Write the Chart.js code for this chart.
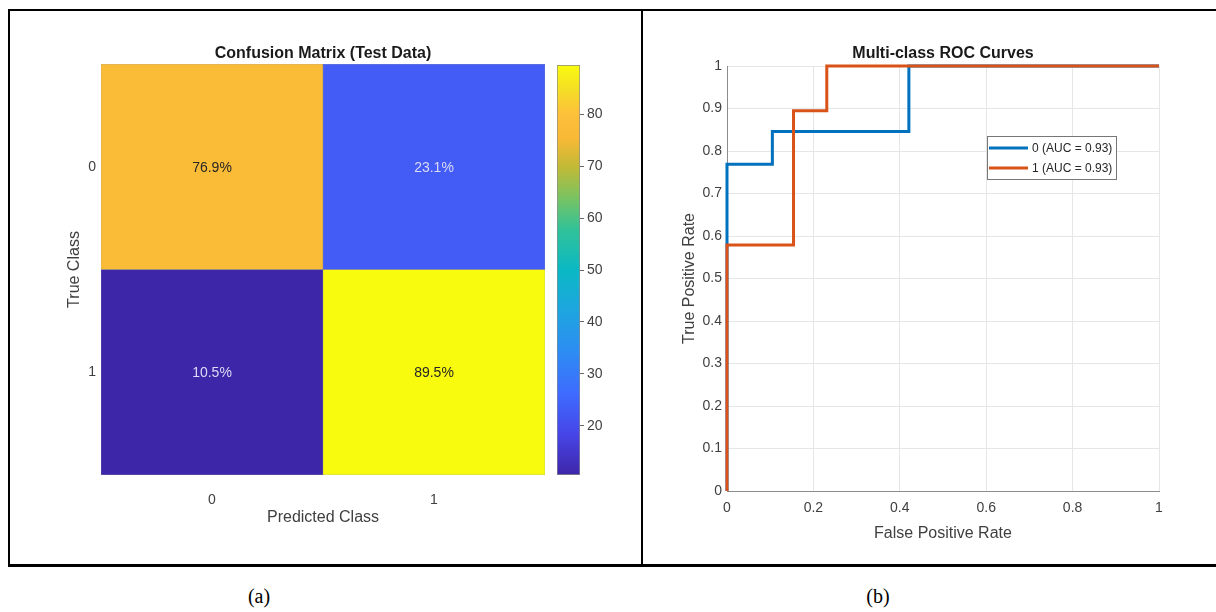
<!DOCTYPE html>
<html>
<head>
<meta charset="utf-8">
<script src="https://cdn.jsdelivr.net/npm/chart.js@4/dist/chart.umd.min.js"></script>
<style>
html, body { margin: 0; padding: 0; background: #fff; }
body { width: 1216px; height: 612px; position: relative; overflow: hidden; }
.frame { position: absolute; left: 8px; top: 9px; width: 1215px; height: 553px;
  border-top: 2px solid #000; border-left: 2px solid #000; border-bottom: 3px solid #000; }
.divider { position: absolute; left: 641px; top: 10px; width: 2px; height: 555px; background: #000; }
canvas { position: absolute; }
.cap { position: absolute; top: 585px; width: 100px; text-align: center;
  font: 20px "Liberation Serif", "Times New Roman", serif; color: #000; }
</style>
</head>
<body>
<div class="frame"></div>
<div class="divider"></div>
<canvas id="cm" width="631" height="551" style="left:10px;top:12px"></canvas>
<canvas id="cb" width="90" height="551" style="left:550px;top:12px"></canvas>
<canvas id="roc" width="568" height="551" style="left:643px;top:12px"></canvas>
<div class="cap" style="left:209px">(a)</div>
<div class="cap" style="left:828px">(b)</div>
<script>
// confusion matrix (rows = true class, cols = predicted class), percent
var trueClasses = ['0', '1'];
var predClasses = ['0', '1'];
var cmRates = [[76.9, 23.1], [10.5, 89.5]];
var cbTicks = [20, 30, 40, 50, 60, 70, 80];

// ROC curve points
var fpr0 = [0, 0, 0.105, 0.105, 0.421, 0.421, 1];
var tpr0 = [0, 0.769, 0.769, 0.846, 0.846, 1, 1];
var fpr1 = [0, 0, 0.154, 0.154, 0.231, 0.231, 1];
var tpr1 = [0, 0.579, 0.579, 0.895, 0.895, 1, 1];
var aucs = [0.93, 0.93];
var rocColors = ['#0072BD', '#D95319'];

// parula-like colormap stops
var parula = [
  [0.00, [62, 38, 168]],
  [0.10, [71, 69, 232]],
  [0.20, [62, 108, 254]],
  [0.30, [45, 140, 243]],
  [0.40, [30, 165, 224]],
  [0.50, [10, 184, 196]],
  [0.60, [50, 194, 152]],
  [0.68, [125, 195, 95]],
  [0.75, [192, 186, 55]],
  [0.82, [248, 185, 54]],
  [0.88, [253, 192, 58]],
  [0.94, [245, 222, 38]],
  [1.00, [249, 251, 14]]
];

function parulaColor(t) {
  t = Math.max(0, Math.min(1, t));
  for (var i = 1; i < parula.length; i++) {
    if (t <= parula[i][0]) {
      var a = parula[i - 1], b = parula[i];
      var f = (t - a[0]) / (b[0] - a[0]);
      var c = a[1].map(function (v, k) { return Math.round(v + (b[1][k] - v) * f); });
      return 'rgb(' + c.join(',') + ')';
    }
  }
  return 'rgb(249,251,14)';
}

Chart.defaults.font.family = '"Liberation Sans", Arial, sans-serif';
Chart.defaults.color = '#404040';

var allRates = cmRates[0].concat(cmRates[1]);
var cmMin = Math.min.apply(null, allRates);
var cmMax = Math.max.apply(null, allRates);

var titleFont = { size: 16, weight: 'bold' };
var tickFont = { size: 14 };
var labelFont = { size: 16 };

var cellLabels = {
  id: 'cellLabels',
  afterDatasetsDraw: function (chart) {
    var c = chart.ctx;
    chart.data.datasets.forEach(function (ds, i) {
      chart.getDatasetMeta(i).data.forEach(function (bar, j) {
        var v = ds.rates[j];
        c.save();
        c.font = '14px "Liberation Sans", Arial, sans-serif';
        c.fillStyle = v > 50 ? '#262626' : '#dcdcf5';
        c.textAlign = 'center';
        c.textBaseline = 'middle';
        c.fillText(v.toFixed(1) + '%', bar.x, (bar.y + bar.base) / 2 + 1);
        c.restore();
      });
    });
  }
};

new Chart(document.getElementById('cm'), {
  type: 'bar',
  data: {
    labels: predClasses,
    datasets: trueClasses.map(function (t, i) {
      return {
        label: t,
        data: predClasses.map(function () { return 1; }),
        rates: cmRates[i],
        backgroundColor: cmRates[i].map(function (v) { return parulaColor((v - cmMin) / (cmMax - cmMin)); }),
        borderColor: 'rgba(70,70,70,0.6)',
        borderWidth: 0.5,
        borderSkipped: false,
        barPercentage: 1,
        categoryPercentage: 1
      };
    })
  },
  options: {
    responsive: false,
    animation: false,
    devicePixelRatio: 1,
    layout: { padding: { right: 96 } },
    plugins: {
      legend: { display: false },
      tooltip: { enabled: false },
      title: {
        display: true, text: 'Confusion Matrix (Test Data)', fullSize: false,
        color: '#1a1a1a', font: titleFont, padding: { top: 32, bottom: 0.8 }
      }
    },
    scales: {
      x: {
        stacked: true,
        grid: { display: false },
        border: { display: false },
        ticks: { font: tickFont, padding: 9 },
        title: { display: true, text: 'Predicted Class', font: labelFont, padding: { top: 0, bottom: 36 } },
        afterFit: function (s) { s.height = 88; }
      },
      y: {
        type: 'linear', stacked: true, reverse: true,
        min: 0, max: trueClasses.length,
        afterBuildTicks: function (s) {
          s.ticks = trueClasses.map(function (t, i) { return { value: i + 0.5 }; });
        },
        grid: { display: false, drawTicks: false },
        border: { display: false },
        ticks: {
          font: tickFont, padding: 5,
          callback: function (v) { return trueClasses[Math.floor(v)]; }
        },
        title: { display: true, text: 'True Class', font: labelFont, padding: { top: 55, bottom: 0 } },
        afterFit: function (s) { s.width = 91; }
      }
    }
  },
  plugins: [cellLabels]
});

// colorbar
new Chart(document.getElementById('cb'), {
  type: 'bar',
  data: {
    labels: [''],
    datasets: [{
      data: [[cmMin, cmMax]],
      backgroundColor: function (ctx) {
        var chart = ctx.chart;
        if (!chart.chartArea) return '#888';
        var y = chart.scales.y;
        var g = chart.ctx.createLinearGradient(0, y.getPixelForValue(cmMin), 0, y.getPixelForValue(cmMax));
        parula.forEach(function (s) { g.addColorStop(s[0], 'rgb(' + s[1].join(',') + ')'); });
        return g;
      },
      borderColor: '#8a8a8a',
      borderWidth: 1,
      borderSkipped: false,
      barPercentage: 1,
      categoryPercentage: 1
    }]
  },
  options: {
    responsive: false,
    animation: false,
    devicePixelRatio: 1,
    layout: { padding: { left: 7, top: 53, bottom: 88 } },
    plugins: { legend: { display: false }, tooltip: { enabled: false } },
    scales: {
      x: { display: false },
      y: {
        position: 'right',
        min: cmMin, max: cmMax,
        afterBuildTicks: function (s) { s.ticks = cbTicks.map(function (v) { return { value: v }; }); },
        grid: { drawOnChartArea: false, tickLength: 4, color: '#666' },
        border: { display: false },
        ticks: { font: tickFont, padding: 3 },
        afterFit: function (s) { s.width = 60; }
      }
    }
  }
});

// ROC curves
var rocLegend = {
  id: 'rocLegend',
  afterDraw: function (chart) {
    var c = chart.ctx, a = chart.chartArea;
    var x0 = a.right - 172, y0 = a.top + 70, w = 129, h = 43;
    c.save();
    c.fillStyle = '#fff';
    c.fillRect(x0, y0, w, h);
    c.strokeStyle = '#777';
    c.lineWidth = 1;
    c.strokeRect(x0 + 0.5, y0 + 0.5, w, h);
    chart.data.datasets.forEach(function (ds, i) {
      var y = y0 + 12 + i * 20;
      c.strokeStyle = ds.borderColor;
      c.lineWidth = 3;
      c.beginPath();
      c.moveTo(x0 + 2, y);
      c.lineTo(x0 + 41, y);
      c.stroke();
      c.fillStyle = '#262626';
      c.font = '12px "Liberation Sans", Arial, sans-serif';
      c.textBaseline = 'middle';
      c.fillText(ds.label, x0 + 45, y + 1);
    });
    c.restore();
  }
};

function rocPoints(fpr, tpr) {
  return fpr.map(function (x, i) { return { x: x, y: tpr[i] }; });
}

new Chart(document.getElementById('roc'), {
  type: 'line',
  data: {
    datasets: [
      {
        label: '0 (AUC = ' + aucs[0].toFixed(2) + ')',
        data: rocPoints(fpr0, tpr0),
        borderColor: rocColors[0], borderWidth: 3,
        pointRadius: 0, tension: 0, fill: false, clip: false, order: 1
      },
      {
        label: '1 (AUC = ' + aucs[1].toFixed(2) + ')',
        data: rocPoints(fpr1, tpr1),
        borderColor: rocColors[1], borderWidth: 3,
        pointRadius: 0, tension: 0, fill: false, clip: false, order: 0
      }
    ]
  },
  options: {
    responsive: false,
    animation: false,
    devicePixelRatio: 1,
    layout: { padding: { right: 52 } },
    plugins: {
      legend: { display: false },
      tooltip: { enabled: false },
      title: {
        display: true, text: 'Multi-class ROC Curves', fullSize: false,
        color: '#1a1a1a', font: titleFont, padding: { top: 32.4, bottom: 2.4 }
      }
    },
    scales: {
      x: {
        type: 'linear', min: 0, max: 1,
        ticks: {
          stepSize: 0.2, font: tickFont, padding: 9,
          callback: function (v) { return String(+v.toFixed(1)); }
        },
        grid: { color: '#e6e6e6', drawTicks: false },
        border: { color: '#8c8c8c' },
        title: { display: true, text: 'False Positive Rate', font: labelFont, padding: { top: 0, bottom: 20 } },
        afterFit: function (s) { s.height = 72; }
      },
      y: {
        type: 'linear', min: 0, max: 1,
        ticks: {
          stepSize: 0.1, font: tickFont, padding: 5,
          callback: function (v) { return String(+v.toFixed(1)); }
        },
        grid: { color: '#e6e6e6', drawTicks: false },
        border: { color: '#8c8c8c' },
        title: { display: true, text: 'True Positive Rate', font: labelFont, padding: { top: 37, bottom: 0 } },
        afterFit: function (s) { s.width = 84; }
      }
    }
  },
  plugins: [rocLegend]
});
</script>
</body>
</html>
